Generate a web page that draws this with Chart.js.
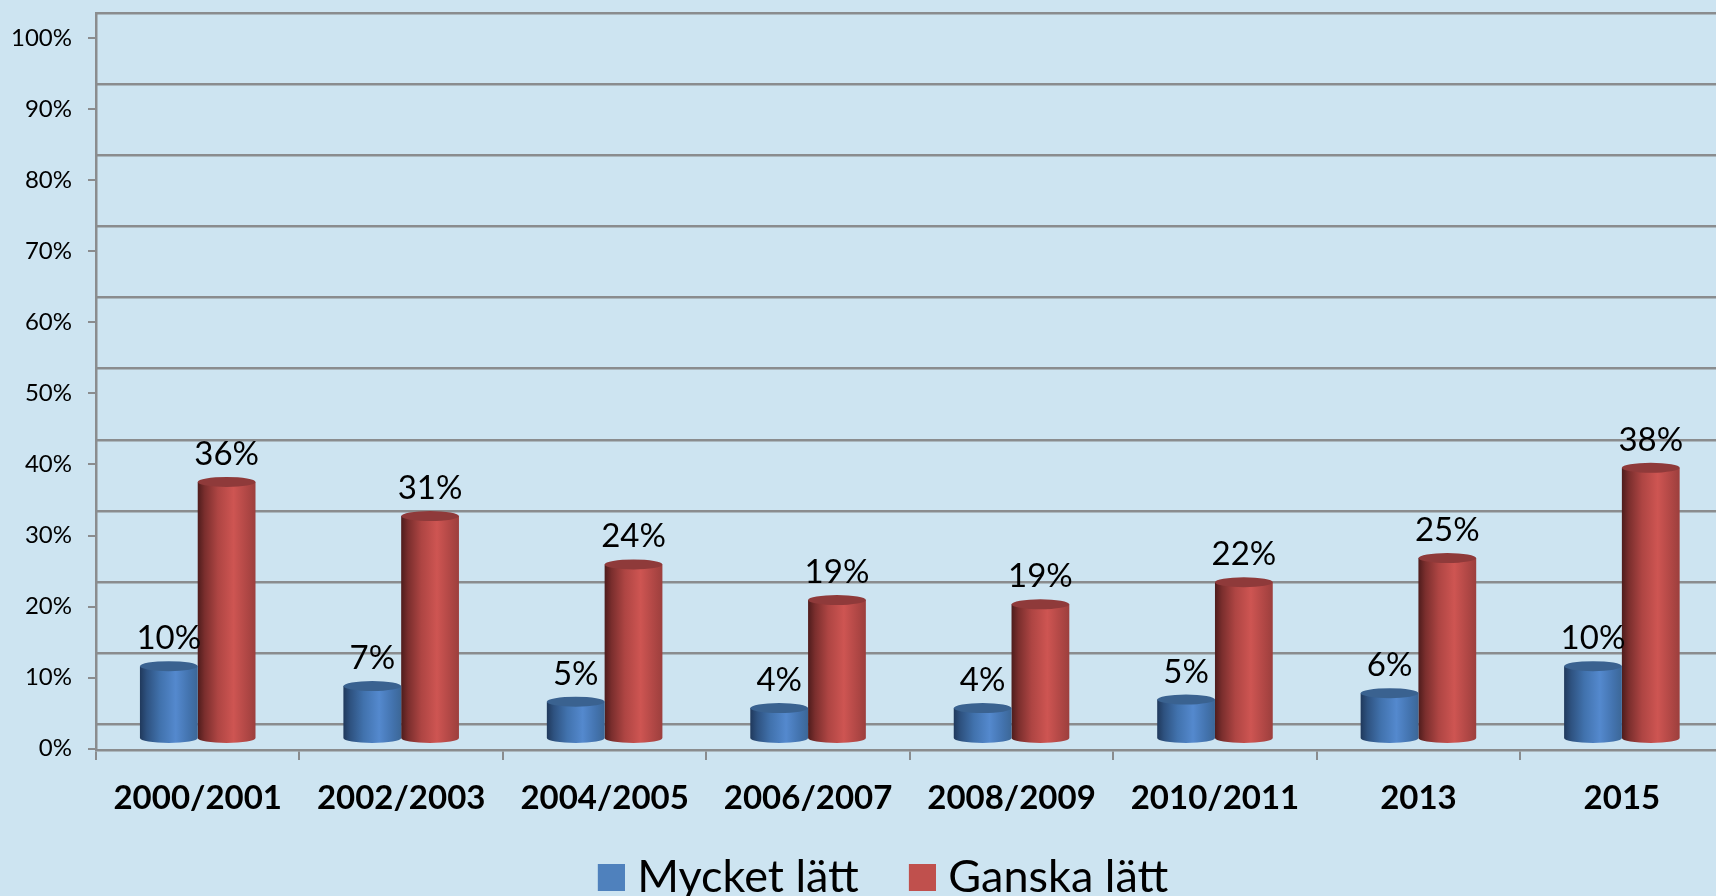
<!DOCTYPE html>
<html><head><meta charset="utf-8">
<style>
html,body{margin:0;padding:0;background:#CDE4F1;overflow:hidden;width:1716px;height:896px}
#wrap{position:absolute;left:0;top:0;width:1716px;height:896px;overflow:hidden}
canvas{display:block}
</style>
<script src="https://cdn.jsdelivr.net/npm/chart.js@4"></script>
</head><body><div id="wrap"><canvas id="c" width="1766" height="910"></canvas></div>
<script>
const categories = ['2000/2001','2002/2003','2004/2005','2006/2007','2008/2009','2010/2011','2013','2015'];
const mycketLatt = [10.1, 7.3, 5.1, 4.2, 4.2, 5.4, 6.3, 10.1];
const ganskaLatt = [36.0, 31.2, 24.4, 19.4, 18.8, 21.9, 25.3, 38.0];
const yTicks = [0,10,20,30,40,50,60,70,80,90,100];
const seriesNames = ['Mycket lätt','Ganska lätt'];
const legendColors = ['#4F81BD','#C0504D'];
const FONT = 'Lato, Carlito, sans-serif';
const GRID = '#8A8C8E';
const CAT_PCT = 0.568;

const stops = [
  [[0,'#20395C'],[0.12,'#2E5280'],[0.35,'#4172AD'],[0.62,'#5489CE'],[0.85,'#4373AE'],[1,'#3C6797']],
  [[0,'#4E1C1C'],[0.12,'#7A2E2D'],[0.35,'#AE4543'],[0.62,'#CE5552'],[0.85,'#B04745'],[1,'#9C3F3D']]
];
const capColor = ['#3A6290','#8F3A3A'];

function gradientAcross(ctx,cx,w,i){
  const g=ctx.createLinearGradient(cx-w/2,0,cx+w/2,0);
  stops[i].forEach(s=>g.addColorStop(s[0],s[1]));
  return g;
}
function cylinderFill(c){
  const sx=c.chart.scales.x;
  if(!sx || !sx.width || c.dataIndex===undefined) return legendColors[c.datasetIndex];
  const w=sx.width/categories.length*CAT_PCT/2;
  const cx=sx.getPixelForValue(c.dataIndex)+(c.datasetIndex-0.5)*w;
  return gradientAcross(c.chart.ctx,cx,w,c.datasetIndex);
}
function marker(color){
  const m=document.createElement('canvas'); m.width=37; m.height=27;
  const x=m.getContext('2d'); x.fillStyle=color; x.fillRect(10,0,27,27);
  return m;
}
const markers = legendColors.map(marker);

const cylinders = {
  id:'cylinders',
  beforeDraw(chart){
    // let the category labels run below the scale box instead of being clipped by it
    chart.scales.x.bottom = chart.height;
  },
  afterDatasetsDraw(chart){
    const ctx=chart.ctx;
    chart.data.datasets.forEach((ds,i)=>{
      chart.getDatasetMeta(i).data.forEach((b,j)=>{
        const p=b.getProps(['x','y','base','width'],true);
        const rx=p.width/2, ry=5;
        ctx.save();
        ctx.fillStyle=gradientAcross(ctx,p.x,p.width,i);
        ctx.beginPath(); ctx.ellipse(p.x,p.base,rx,ry,0,0,Math.PI); ctx.fill();
        ctx.fillStyle=capColor[i];
        ctx.beginPath(); ctx.ellipse(p.x,p.y,rx,ry,0,0,Math.PI*2); ctx.fill();
        ctx.restore();
      });
    });
    chart.data.datasets.forEach((ds,i)=>{
      chart.getDatasetMeta(i).data.forEach((b,j)=>{
        const p=b.getProps(['x','y'],true);
        ctx.save();
        ctx.font='33px '+FONT; ctx.fillStyle='#000';
        ctx.textAlign='center'; ctx.textBaseline='alphabetic';
        ctx.fillText(Math.round(ds.data[j])+'%',p.x,p.y-17);
        ctx.restore();
      });
    });
  }
};

new Chart(document.getElementById('c'),{
  type:'bar',
  data:{labels:categories,datasets:[
    {label:seriesNames[0],data:mycketLatt,yAxisID:'bars',backgroundColor:cylinderFill,borderWidth:0},
    {label:seriesNames[1],data:ganskaLatt,yAxisID:'bars',backgroundColor:cylinderFill,borderWidth:0}
  ]},
  plugins:[cylinders],
  options:{
    responsive:false,animation:false,
    layout:{padding:{top:13,left:0,right:0,bottom:0}},
    datasets:{bar:{barPercentage:1,categoryPercentage:CAT_PCT}},
    plugins:{
      tooltip:{enabled:false},
      legend:{
        position:'bottom',
        labels:{
          usePointStyle:true,pointStyleWidth:17,boxHeight:27,padding:50,
          color:'#000',font:{family:FONT,size:45,lineHeight:1},
          generateLabels(ch){
            return Chart.defaults.plugins.legend.labels.generateLabels(ch)
              .map((it,i)=>Object.assign(it,{pointStyle:markers[i]}));
          }
        }
      }
    },
    scales:{
      x:{
        position:'bottom',
        grid:{drawOnChartArea:false,drawTicks:true,tickLength:10,color:GRID,lineWidth:2,offset:true},
        border:{display:true,color:GRID,width:2.5},
        ticks:{color:'#000',font:{family:FONT,size:33,weight:'bold'},padding:19,maxRotation:0,autoSkip:false},
        afterFit(s){s.height=55;s.paddingLeft=0;s.paddingRight=0;}
      },
      y:{
        position:'left',min:-0.18,max:103.53,
        afterBuildTicks(s){s.ticks=yTicks.map(v=>({value:v}));},
        grid:{drawOnChartArea:false,drawTicks:true,tickLength:8,color:GRID,lineWidth:2},
        border:{display:true,color:GRID,width:2.5},
        ticks:{color:'#000',font:{family:FONT,size:24},padding:16,callback:v=>v+'%'},
        afterFit(s){s.width=96;s.paddingTop=0;s.paddingBottom=0;}
      },
      bars:{display:false,position:'left',min:-1.69,max:101.95},
      wall:{
        position:'right',min:-3.6,max:100,
        afterBuildTicks(s){s.ticks=yTicks.map(v=>({value:v}));},
        grid:{drawOnChartArea:true,drawTicks:false,color:GRID,lineWidth:2.4},
        border:{display:false},
        ticks:{display:false},
        afterFit(s){s.width=42.4;s.paddingTop=0;s.paddingBottom=0;}
      }
    }
  }
});
</script></body></html>
